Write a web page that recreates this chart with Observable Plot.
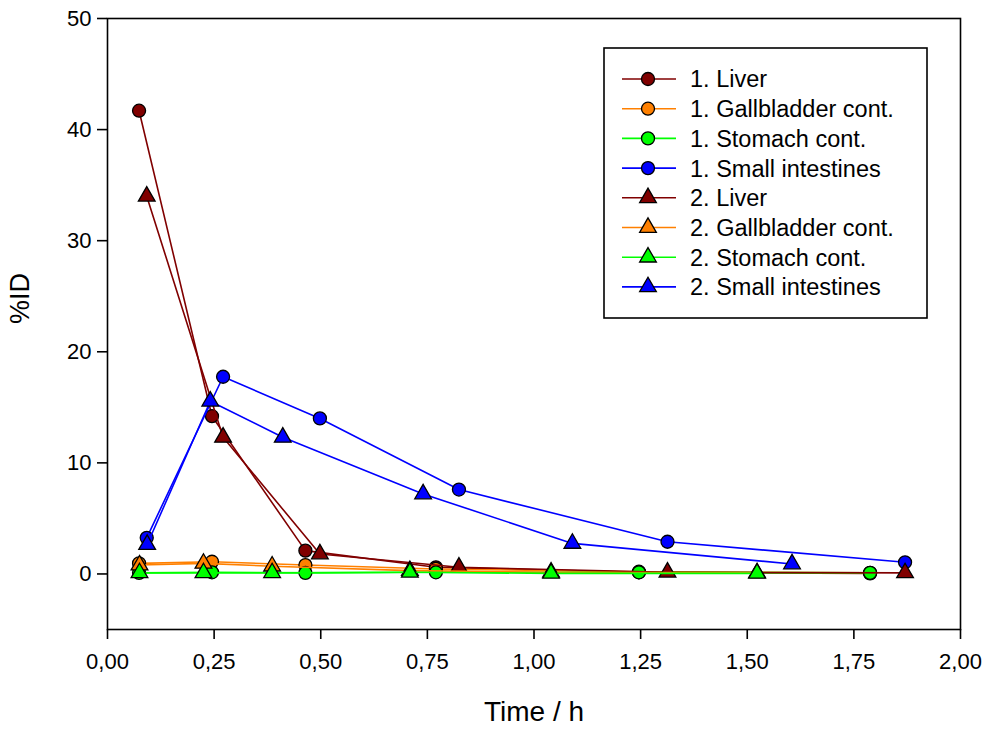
<!DOCTYPE html>
<html><head><meta charset="utf-8">
<script src="https://cdn.jsdelivr.net/npm/d3@7"></script>
<script src="https://cdn.jsdelivr.net/npm/@observablehq/plot@0.6"></script>
<style>
body{margin:0;background:#fff}
#chart{position:relative;width:987px;height:733px}
</style>
</head><body><div id="chart"></div>
<script>
// Time points (h) for each group of series
const timeA = [0.074, 0.245, 0.464, 0.770, 1.246, 1.788]; // 1. Liver, 1. Gallbladder, 1. Stomach
const timeB = [0.092, 0.271, 0.498, 0.824, 1.313, 1.870]; // 1. Small intestines, 2. Liver
const timeC = [0.075, 0.225, 0.386, 0.709, 1.040, 1.523]; // 2. Gallbladder, 2. Stomach
const timeD = [0.093, 0.241, 0.411, 0.740, 1.090, 1.605]; // 2. Small intestines

// %ID values
const liver1 = [41.7, 14.2, 2.1, 0.6, 0.15, 0.05];
const gall1  = [0.95, 1.1, 0.8, 0.45, 0.2, 0.1];
const stom1  = [0.1, 0.15, 0.1, 0.15, 0.15, 0.1];
const si1    = [3.25, 17.75, 14.0, 7.6, 2.9, 1.05];
const liver2 = [34.0, 12.3, 1.8, 0.6, 0.15, 0.1];
const gall2  = [0.8, 0.95, 0.7, 0.3, 0.15, 0.1];
const stom2  = [0.1, 0.1, 0.1, 0.15, 0.05, 0.05];
const si2    = [2.65, 15.55, 12.3, 7.2, 2.75, 0.9];

const seriesNames = ["1. Liver", "1. Gallbladder cont.", "1. Stomach cont.", "1. Small intestines",
                     "2. Liver", "2. Gallbladder cont.", "2. Stomach cont.", "2. Small intestines"];
const seriesColors = ["#800000", "#ff8000", "#00ff00", "#0000ff", "#800000", "#ff8000", "#00ff00", "#0000ff"];
const seriesSymbols = ["circle", "circle", "circle", "circle", "triangle", "triangle", "triangle", "triangle"];
const seriesTimes = [timeA, timeA, timeA, timeB, timeB, timeC, timeC, timeD];
const seriesValues = [liver1, gall1, stom1, si1, liver2, gall2, stom2, si2];

const xTicks = [0, 0.25, 0.5, 0.75, 1, 1.25, 1.5, 1.75, 2];
const yTicks = [0, 10, 20, 30, 40, 50];
const xTitle = "Time / h";
const yTitle = "%ID";

const FONT = "'Liberation Sans', Arial, Helvetica, sans-serif";

const marks = [];
seriesNames.forEach((name, i) => {
  const data = seriesTimes[i].map((t, j) => ({t, v: seriesValues[i][j], name}));
  marks.push(Plot.line(data, {x: "t", y: "v", stroke: seriesColors[i], strokeWidth: 1.6}));
  marks.push(Plot.dot(data, {x: "t", y: "v", symbol: seriesSymbols[i],
    r: seriesSymbols[i] === "circle" ? 6.5 : 6.2,
    fill: seriesColors[i], stroke: "black", strokeWidth: 1.3}));
});

const plot = Plot.plot({
  width: 987,
  height: 733,
  marginLeft: 107,
  marginRight: 27,
  marginTop: 18,
  marginBottom: 104,
  style: {fontFamily: FONT, fontSize: "22px", background: "#fff", color: "black"},
  x: {domain: [0, 2]},
  y: {domain: [-5, 50]},
  marks: [
    ...marks,
    Plot.frame({stroke: "black", strokeWidth: 1.6}),
    Plot.axisX({ticks: xTicks, tickSize: 10, tickPadding: 14, strokeWidth: 1.6,
      tickFormat: d => d3.format(".2f")(d).replace(".", ","), label: null}),
    Plot.axisY({ticks: yTicks, tickSize: 10, tickPadding: 6, strokeWidth: 1.6, label: null}),
    Plot.text([xTitle], {text: d => d, frameAnchor: "bottom", dy: 83, fontSize: 28, lineAnchor: "middle", fill: "black"}),
    Plot.text([yTitle], {text: d => d, frameAnchor: "left", dx: -87, rotate: -90, fontSize: 27, lineAnchor: "middle", fill: "black"})
  ]
});

document.getElementById("chart").appendChild(plot);

// Legend (inside plot area, top right)
const svg = d3.select(plot);
const lg = svg.append("g").attr("font-family", FONT).attr("font-size", "23.5px").attr("text-anchor", "start");
lg.append("rect").attr("x", 604).attr("y", 48).attr("width", 323).attr("height", 270)
  .attr("fill", "white").attr("stroke", "black").attr("stroke-width", 1.6);
seriesNames.forEach((name, i) => {
  const y = 79 + i * 29.7;
  lg.append("line").attr("x1", 622).attr("x2", 676).attr("y1", y).attr("y2", y)
    .attr("stroke", seriesColors[i]).attr("stroke-width", 1.6);
  const sym = seriesSymbols[i] === "circle" ? d3.symbolCircle : d3.symbolTriangle;
  const r = seriesSymbols[i] === "circle" ? 6.5 : 6.2;
  lg.append("path").attr("d", d3.symbol(sym, Math.PI * r * r)())
    .attr("transform", `translate(648,${y})`)
    .attr("fill", seriesColors[i]).attr("stroke", "black").attr("stroke-width", 1.3);
  lg.append("text").attr("x", 690).attr("y", y).attr("dy", "0.36em").attr("fill", "black")
    .attr("text-anchor", "start").text(name);
});
</script>
</body></html>
